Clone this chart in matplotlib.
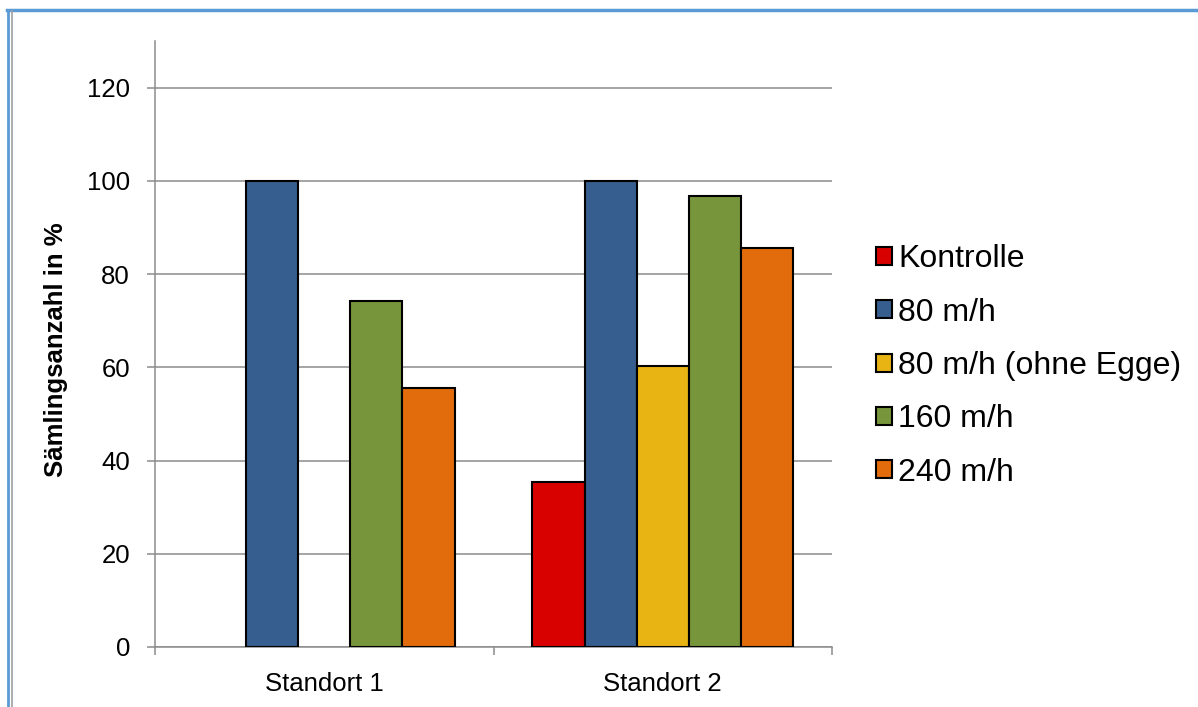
import matplotlib.pyplot as plt
import matplotlib.lines as mlines
import numpy as np

plt.rcParams["font.family"] = ["Liberation Sans", "DejaVu Sans"]

standorte = ["Standort 1", "Standort 2"]
varianten = ["Kontrolle", "80 m/h", "80 m/h (ohne Egge)", "160 m/h", "240 m/h"]
kontrolle = [np.nan, 35.5]
m80 = [100, 100]
m80_ohne_egge = [np.nan, 60.2]
m160 = [74.3, 96.8]
m240 = [55.6, 85.6]
farben = ["#d90000", "#365e8e", "#e8b414", "#77963c", "#e26b0b"]

werte = [kontrolle, m80, m80_ohne_egge, m160, m240]

fig = plt.figure(figsize=(11.98, 7.07), dpi=100)
ax = fig.add_axes([155 / 1198, 1 - 647 / 707, 677 / 1198, 606 / 707])

x = np.arange(len(standorte))
breite = 0.154
for i, (name, vals, farbe) in enumerate(zip(varianten, werte, farben)):
    ax.bar(x + (i - 2) * breite, vals, width=breite, color=farbe,
           edgecolor="black", linewidth=1.5, label=name, zorder=3)

ax.set_xlim(-0.5, 1.5)
ax.set_ylim(0, 130)
ax.set_yticks(range(0, 121, 20))
ax.set_xticks(x)
ax.set_xticklabels(standorte)
ax.set_xticks([-0.5, 0.5, 1.5], minor=True)

grau = "#8c8c8c"
ax.grid(axis="y", color=grau, linewidth=1.1, zorder=0)
for s in ["top", "right"]:
    ax.spines[s].set_visible(False)
for s in ["left", "bottom"]:
    ax.spines[s].set_color(grau)
    ax.spines[s].set_linewidth(1.1)

ax.tick_params(axis="y", length=6, width=1.1, color=grau, pad=12, labelsize=18.5)
ax.tick_params(axis="x", which="major", length=0, pad=18, labelsize=18.5)
ax.tick_params(axis="x", which="minor", length=6, width=1.1, color=grau)

ax.set_ylabel("Sämlingsanzahl in %", fontsize=18.5, fontweight="bold")
ax.yaxis.set_label_coords(-0.1285, 0.49)

ax.legend(loc="center left", bbox_to_anchor=(1.065, 0.4637), frameon=False,
          fontsize=23, handlelength=0.5, handleheight=0.5, handletextpad=0.2,
          labelspacing=0.73, borderpad=0, borderaxespad=0)

# Rahmen oben und links
blau = "#5b9bd5"
fig.add_artist(mlines.Line2D([7 / 1198, 1], [1 - 9.5 / 707] * 2,
                             transform=fig.transFigure, color=blau, linewidth=2.5))
fig.add_artist(mlines.Line2D([8 / 1198] * 2, [0, 1 - 9.5 / 707],
                             transform=fig.transFigure, color=blau, linewidth=2))
fig.add_artist(mlines.Line2D([11.5 / 1198] * 2, [0, 1 - 11 / 707],
                             transform=fig.transFigure, color="#a0a0a0", linewidth=1.2))

fig.savefig("out.png", dpi=100)
